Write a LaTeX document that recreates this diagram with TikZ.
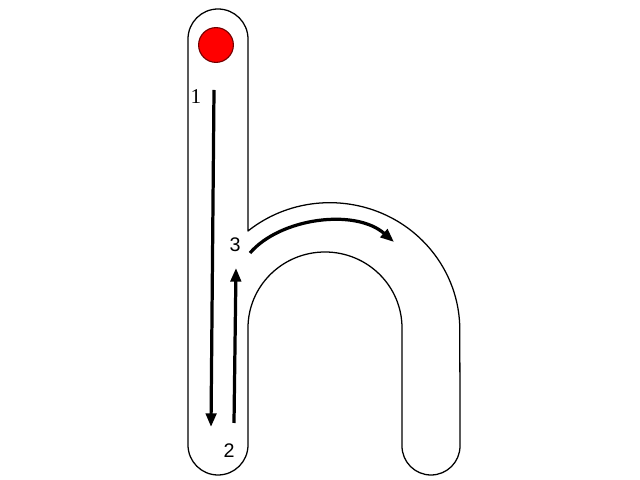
\documentclass[tikz,border=0pt]{standalone}
\usepackage{fontspec}
\setmainfont{Liberation Serif}
\setsansfont{Liberation Sans}
\usepackage{tikz}
\usetikzlibrary{arrows.meta,positioning,calc}

\begin{document}
\begin{tikzpicture}[x=0.025cm,y=0.025cm,
    outline/.style={line width=0.9pt,line join=round},
    stroke/.style={line width=2.3pt,-{Triangle[length=3.4mm,width=2.6mm]}},
    num/.style={font=\fontsize{14}{16}\selectfont,inner sep=0pt}]
  \useasboundingbox (0,0) rectangle (640,480);
  % letter outline
  \draw[outline] (188,35) -- (188,441) arc[start angle=180,end angle=0,radius=30]
    -- (248,249) arc[start angle=129,end angle=0,x radius=130,y radius=127]
    -- (460,34) arc[start angle=0,end angle=-180,radius=29]
    -- (402,152) arc[start angle=0,end angle=180,x radius=77,y radius=76]
    -- (248,35) arc[start angle=0,end angle=-180,radius=30] -- cycle;
  % start dot
  \node[circle,fill=red,draw=red!45!black,line width=0.8pt,
    inner sep=0pt,minimum size=0.87cm] (dot) at (216,435) {};
  % strokes
  \coordinate (s1a) at (214,390);
  \coordinate (s1b) at (211,53);
  \coordinate (s2a) at (234,57);
  \coordinate (s2b) at (236,212);
  \coordinate (s3a) at (250,227);
  \coordinate (s3b) at (394,238);
  \draw[stroke] (s1a) -- (s1b);
  \draw[stroke] (s2a) -- (s2b);
  \draw[stroke] (s3a) .. controls (280,262) and (355,272) .. (s3b);
  % numbers
  \node[num,font=\fontsize{15}{17}\selectfont] (n1) at (196,383) {1};
  \node[num,font=\sffamily\fontsize{14}{16}\selectfont] (n2) at (229,29) {2};
  \node[num,font=\sffamily\fontsize{14}{16}\selectfont] (n3) at (235,235) {3};
\end{tikzpicture}
\end{document}
